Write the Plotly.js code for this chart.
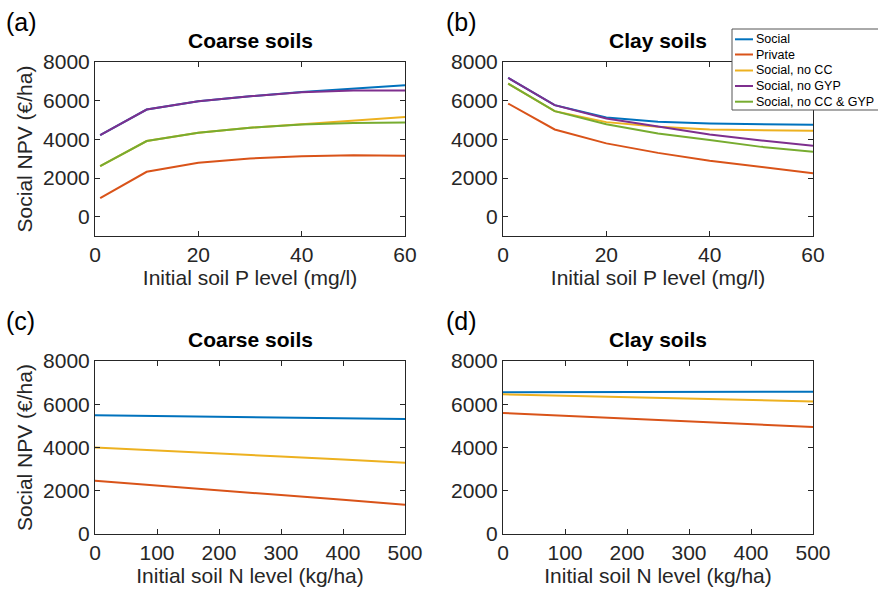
<!DOCTYPE html>
<html><head><meta charset="utf-8">
<script src="https://cdn.plot.ly/plotly-3.0.1.min.js"></script>
<style>html,body{margin:0;padding:0;background:#fff}#c{width:878px;height:591px}</style>
</head><body><div id="c"></div>
<script>
// Series names and colours
const seriesNames = ["Social", "Private", "Social, no CC", "Social, no GYP", "Social, no CC & GYP"];
const seriesColors = ["#0072BD", "#D95319", "#EDB120", "#7E2F8E", "#77AC30"];

// (a) Coarse soils vs initial soil P
const pLevels = [1, 10, 20, 30, 40, 50, 60];
const coarseP_social    = [4220, 5540, 5970, 6230, 6450, 6630, 6800];
const coarseP_private   = [960, 2320, 2790, 3010, 3130, 3180, 3150];
const coarseP_noCC      = [2620, 3910, 4340, 4600, 4780, 4960, 5150];
const coarseP_noGYP     = [4220, 5540, 5970, 6230, 6440, 6520, 6520];
const coarseP_noCCGYP   = [2620, 3910, 4340, 4600, 4770, 4850, 4870];

// (b) Clay soils vs initial soil P
const clayP_social  = [7180, 5770, 5130, 4910, 4820, 4770, 4750];
const clayP_private = [5850, 4510, 3790, 3300, 2890, 2580, 2250];
const clayP_noCC    = [6880, 5460, 4890, 4650, 4510, 4460, 4440];
const clayP_noGYP   = [7180, 5770, 5080, 4650, 4250, 3940, 3670];
const clayP_noCCGYP = [6880, 5460, 4780, 4300, 3960, 3610, 3360];

// (c) Coarse soils vs initial soil N
const nLevels = [0, 100, 200, 300, 400, 500];
const coarseN_social  = [5490, 5460, 5430, 5400, 5360, 5320];
const coarseN_private = [2460, 2250, 2030, 1800, 1580, 1350];
const coarseN_noCC    = [4000, 3870, 3730, 3580, 3440, 3290];

// (d) Clay soils vs initial soil N
const clayN_social  = [6560, 6570, 6580, 6580, 6580, 6580];
const clayN_private = [5600, 5470, 5340, 5210, 5080, 4950];
const clayN_noCC    = [6460, 6400, 6330, 6270, 6200, 6130];

const panelTitles = ["Coarse soils", "Clay soils", "Coarse soils", "Clay soils"];
const panelLabels = ["(a)", "(b)", "(c)", "(d)"];
const xTitleP = "Initial soil P level (mg/l)";
const xTitleN = "Initial soil N level (kg/ha)";
const yTitle = "Social NPV (€/ha)";

const panels = [
  {x: pLevels, ys: [coarseP_social, coarseP_private, coarseP_noCC, coarseP_noGYP, coarseP_noCCGYP], xa: "x", ya: "y"},
  {x: pLevels, ys: [clayP_social, clayP_private, clayP_noCC, clayP_noGYP, clayP_noCCGYP], xa: "x2", ya: "y2"},
  {x: nLevels, ys: [coarseN_social, coarseN_private, coarseN_noCC], xa: "x3", ya: "y3"},
  {x: nLevels, ys: [clayN_social, clayN_private, clayN_noCC], xa: "x4", ya: "y4"}
];

const traces = [];
panels.forEach(p => {
  p.ys.forEach((y, i) => {
    traces.push({
      x: p.x, y: y, xaxis: p.xa, yaxis: p.ya, type: "scatter", mode: "lines",
      name: seriesNames[i], line: {color: seriesColors[i], width: 2},
      showlegend: false, hoverinfo: "skip"
    });
  });
});

const W = 878, H = 591;
const txt = "#262626";
const font = "Liberation Sans, Arial, Helvetica, sans-serif";
const colL = [95 / W, 405 / W], colR = [503 / W, 813 / W];
const rowT = [(H - 236) / H, (H - 62) / H], rowB = [(H - 534) / H, (H - 361) / H];

function xax(dom, anchor, range, dtick, title) {
  return {domain: dom, anchor: anchor, range: range, dtick: dtick, tick0: 0,
    showline: true, linecolor: txt, linewidth: 1, mirror: "ticks", automargin: false,
    ticks: "inside", ticklen: 5, tickcolor: txt, showgrid: false, zeroline: false,
    tickfont: {size: 21, color: txt, family: font},
    title: {text: title, font: {size: 21, color: txt, family: font}, standoff: 4}};
}
function yax(dom, anchor, range, title) {
  return {domain: dom, anchor: anchor, range: range, dtick: 2000, tick0: 0,
    showline: true, linecolor: txt, linewidth: 1, mirror: "ticks", automargin: false,
    ticks: "inside", ticklen: 5, tickcolor: txt, showgrid: false, zeroline: false,
    tickfont: {size: 21, color: txt, family: font},
    title: {text: title, font: {size: 21, color: txt, family: font}, standoff: 4}};
}

const annotations = [];
const shapes = [];
const centers = [[(95 + 405) / 2, 40], [(503 + 813) / 2, 40], [(95 + 405) / 2, 339], [(503 + 813) / 2, 339]];
panelTitles.forEach((t, i) => {
  annotations.push({text: "<b>" + t + "</b>", xref: "paper", yref: "paper",
    x: centers[i][0] / W, y: 1 - centers[i][1] / H, xanchor: "center", yanchor: "middle",
    showarrow: false, font: {size: 21, color: "#000", family: font}});
});
const labPos = [[4, 22], [444, 22], [4, 321], [444, 321]];
panelLabels.forEach((t, i) => {
  annotations.push({text: t, xref: "paper", yref: "paper",
    x: labPos[i][0] / W, y: 1 - labPos[i][1] / H, xanchor: "left", yanchor: "middle",
    showarrow: false, font: {size: 25, color: "#000", family: font}});
});

// Manual legend box (as in the reference, located over panel (b))
shapes.push({type: "rect", xref: "paper", yref: "paper", layer: "above",
  x0: 732 / W, x1: 890 / W, y0: 1 - 110 / H, y1: 1 - 29 / H,
  fillcolor: "#fff", line: {color: "#555", width: 1}});
const rowY = [39.3, 54.5, 70.5, 86, 101.7];
seriesNames.forEach((n, i) => {
  shapes.push({type: "line", xref: "paper", yref: "paper", layer: "above",
    x0: 735 / W, x1: 753 / W, y0: 1 - rowY[i] / H, y1: 1 - rowY[i] / H,
    line: {color: seriesColors[i], width: 2}});
  annotations.push({text: n, xref: "paper", yref: "paper",
    x: 754 / W, y: 1 - rowY[i] / H, xanchor: "left", yanchor: "middle",
    showarrow: false, font: {size: 12.5, color: "#000", family: font}});
});

const layout = {
  width: W, height: H, margin: {l: 0, r: 0, t: 0, b: 0, autoexpand: false},
  paper_bgcolor: "#fff", plot_bgcolor: "#fff",
  font: {family: font, color: txt},
  xaxis: xax(colL, "y", [0, 60], 20, xTitleP),
  yaxis: yax(rowT, "x", [-1000, 8000], yTitle),
  xaxis2: xax(colR, "y2", [0, 60], 20, xTitleP),
  yaxis2: yax(rowT, "x2", [-1000, 8000], ""),
  xaxis3: xax(colL, "y3", [0, 500], 100, xTitleN),
  yaxis3: yax(rowB, "x3", [0, 8000], yTitle),
  xaxis4: xax(colR, "y4", [0, 500], 100, xTitleN),
  yaxis4: yax(rowB, "x4", [0, 8000], ""),
  annotations: annotations,
  shapes: shapes,
  showlegend: false
};

Plotly.newPlot("c", traces, layout, {staticPlot: true, displayModeBar: false});
</script></body></html>
